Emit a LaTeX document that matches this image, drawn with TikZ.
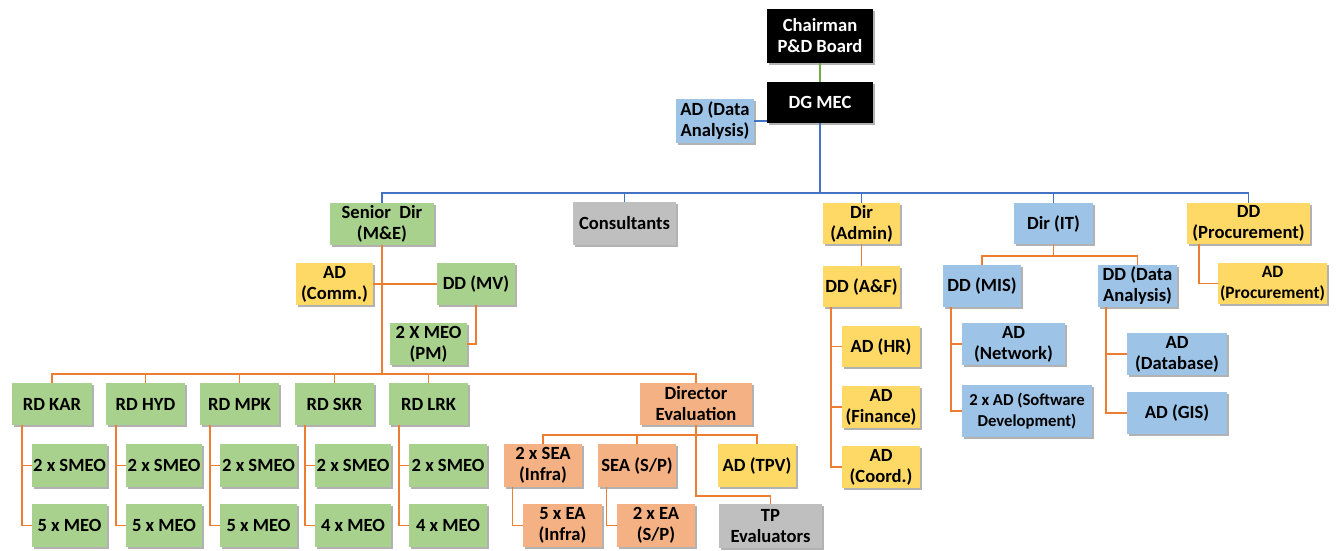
\documentclass[tikz,border=0pt]{standalone}
\usepackage{fontspec}
\setmainfont{Carlito}
\usetikzlibrary{shadows}
\definecolor{cgreen}{HTML}{A9D18E}
\definecolor{corange}{HTML}{F4B183}
\definecolor{cyellow}{HTML}{FFD966}
\definecolor{cblue}{HTML}{9DC3E6}
\definecolor{cgray}{HTML}{BFBFBF}
\definecolor{lorange}{HTML}{ED7D31}
\definecolor{lblue}{HTML}{4472C4}
\definecolor{lgreen}{HTML}{70AD47}
\newcommand\orgbox[7]{\node[box,#6,minimum width={#4-#2},minimum height={#5-#3}] (#1) at ({(#2+#4)/2},{(#3+#5)/2}) {#7};}
\begin{document}
\begin{tikzpicture}[x=1pt,y=-1pt,
  box/.style={inner sep=1pt,align=center,font=\fontsize{18.6}{21}\selectfont\bfseries,
    drop shadow={shadow xshift=1.5pt,shadow yshift=-2pt,opacity=0.3,fill=black}},
  smallfont/.style={font=\fontsize{17.4}{21}\selectfont\bfseries},
  tinyfont/.style={font=\fontsize{16.7}{21}\selectfont\bfseries},
  gbox/.style={fill=cgreen}, obox/.style={fill=corange}, ybox/.style={fill=cyellow},
  bbox/.style={fill=cblue}, kbox/.style={fill=cgray}, dbox/.style={fill=black,text=white},
  ol/.style={draw=lorange,line width=1.6pt},
  bl/.style={draw=lblue,line width=1.6pt},
  gl/.style={draw=lgreen,line width=1.6pt}]
\fill[white] (0,0) rectangle (1338,550);
\useasboundingbox (0,0) rectangle (1338,550);
% top
\orgbox{ch}{767}{9}{873}{63}{dbox}{Chairman\\P\&D Board}
\orgbox{dg}{767}{82}{873}{123}{dbox}{DG MEC}
\orgbox{ada}{676}{99}{754}{143}{bbox}{AD (Data\\Analysis)}
% level 2
\orgbox{sd}{330}{203}{434}{245}{gbox}{Senior~ Dir\\(M\&E)}
\orgbox{cons}{573}{202}{676}{245}{kbox}{Consultants}
\orgbox{adm}{823}{203}{900}{244}{ybox}{Dir\\(Admin)}
\orgbox{it}{1014}{203}{1093}{244}{bbox}{Dir (IT)}
\orgbox{proc}{1187}{203}{1310}{244}{ybox}{DD\\(Procurement)}
% M&E branch
\orgbox{comm}{296}{263}{373}{305}{ybox}{AD\\(Comm.)}
\orgbox{mv}{437}{263}{515}{305}{gbox}{DD (MV)}
\orgbox{pm}{390}{323}{467}{365}{gbox}{2 X MEO\\(PM)}
\orgbox{kar}{12}{383}{92}{425}{gbox}{RD KAR}
\orgbox{hyd}{106}{383}{185}{425}{gbox}{RD HYD}
\orgbox{mpk}{200}{383}{279}{425}{gbox}{RD MPK}
\orgbox{skr}{295}{383}{374}{425}{gbox}{RD SKR}
\orgbox{lrk}{389}{383}{468}{425}{gbox}{RD LRK}
\orgbox{s1}{32}{444}{107}{487}{gbox}{2 x SMEO}
\orgbox{s2}{126}{444}{202}{487}{gbox}{2 x SMEO}
\orgbox{s3}{220}{444}{297}{487}{gbox}{2 x SMEO}
\orgbox{s4}{315}{444}{391}{487}{gbox}{2 x SMEO}
\orgbox{s5}{409}{444}{487}{487}{gbox}{2 x SMEO}
\orgbox{m1}{32}{504}{107}{547}{gbox}{5 x MEO}
\orgbox{m2}{126}{504}{202}{547}{gbox}{5 x MEO}
\orgbox{m3}{220}{504}{297}{547}{gbox}{5 x MEO}
\orgbox{m4}{315}{504}{391}{547}{gbox}{4 x MEO}
\orgbox{m5}{409}{504}{487}{547}{gbox}{4 x MEO}
% evaluation
\orgbox{de}{640}{383}{752}{425}{obox}{Director\\Evaluation}
\orgbox{sea1}{504}{444}{582}{487}{obox}{2 x SEA\\(Infra)}
\orgbox{sea2}{598}{444}{676}{487}{obox}{SEA (S/P)}
\orgbox{tpv}{718}{444}{796}{487}{ybox}{AD (TPV)}
\orgbox{ea1}{523}{504}{602}{547}{obox}{5 x EA\\(Infra)}
\orgbox{ea2}{617}{504}{695}{547}{obox}{2 x EA\\(S/P)}
\orgbox{tp}{719}{504}{822}{548}{kbox}{TP\\Evaluators}
% admin
\orgbox{af}{823}{266}{900}{307}{ybox}{DD (A\&F)}
\orgbox{hr}{842}{326}{920}{367}{ybox}{AD (HR)}
\orgbox{fin}{842}{386}{920}{428}{ybox}{AD\\(Finance)}
\orgbox{coord}{842}{446}{920}{488}{ybox}{AD\\(Coord.)}
% IT
\orgbox{mis}{943}{265}{1021}{307}{bbox}{DD (MIS)}
\orgbox{da}{1098}{265}{1177}{307}{bbox}{DD (Data\\Analysis)}
\orgbox{net}{962}{323}{1065}{365}{bbox}{AD\\(Network)}
\orgbox{sw}{962}{385}{1092}{437}{bbox,tinyfont}{2 x AD (Software\\Development)}
\orgbox{db}{1127}{333}{1227}{375}{bbox}{AD\\(Database)}
\orgbox{gis}{1127}{392}{1227}{434}{bbox}{AD (GIS)}
% procurement
\orgbox{aproc}{1218}{263}{1327}{304}{ybox,smallfont}{AD\\(Procurement)}

% ---- connectors
\coordinate (bb) at (0,193);
\coordinate (ob) at (0,374);
\coordinate (eb) at (0,435);
\coordinate (tb) at (0,496);
\coordinate (ib) at (0,256);
\draw[gl] (ch.south) -- (dg.north);
\draw[bl] (ada.east) -- (ada.east -| dg.west);
\draw[bl] (dg.south) -- (dg.south |- bb);
\draw[bl] (sd.north) -- (sd.north |- bb) -- (proc.north |- bb) -- (proc.north);
\foreach \n in {cons,adm,it} {\draw[bl] (\n.north) -- (\n.north |- bb);}
% M&E
\draw[ol] (sd.south) -- (sd.south |- ob);
\draw[ol] (comm.east) -- (mv.west);
\draw[ol] (mv.south) |- (pm.east);
\draw[ol] (kar.north) -- (kar.north |- ob) -- (de.north |- ob) -- (de.north);
\foreach \n in {hyd,mpk,skr,lrk} {\draw[ol] (\n.north) -- (\n.north |- ob);}
\foreach \r/\s/\m in {kar/s1/m1,hyd/s2/m2,mpk/s3/m3,skr/s4/m4,lrk/s5/m5} {
  \coordinate (t) at ([xshift=10pt]\r.south west);
  \draw[ol] (t) |- (\m.west);
  \draw[ol] (t |- \s.west) -- (\s.west);
}
% evaluation
\draw[ol] (de.south) -- (de.south |- tb) -| (tp.north);
\draw[ol] (sea1.north) -- (sea1.north |- eb) -- (tpv.north |- eb) -- (tpv.north);
\draw[ol] (sea2.north) -- (sea2.north |- eb);
\coordinate (t) at ([xshift=8.5pt]sea1.south west);
\draw[ol] (t) |- (ea1.west);
\coordinate (t) at ([xshift=8.5pt]sea2.south west);
\draw[ol] (t) |- (ea2.west);
% admin
\draw[ol] (adm.south) -- (af.north);
\coordinate (t) at ([xshift=8pt]af.south west);
\draw[ol] (t) |- (coord.west);
\draw[ol] (t |- hr.west) -- (hr.west);
\draw[ol] (t |- fin.west) -- (fin.west);
% IT
\draw[ol] (it.south) -- (it.south |- ib);
\draw[ol] (mis.north) -- (mis.north |- ib) -- (da.north |- ib) -- (da.north);
\coordinate (t) at ([xshift=8pt]mis.south west);
\draw[ol] (t) |- (sw.west);
\draw[ol] (t |- net.west) -- (net.west);
\coordinate (t) at ([xshift=8pt]da.south west);
\draw[ol] (t) |- (gis.west);
\draw[ol] (t |- db.west) -- (db.west);
% procurement
\coordinate (t) at ([xshift=12pt]proc.south west);
\draw[ol] (t) |- (aproc.west);
\end{tikzpicture}
\end{document}
